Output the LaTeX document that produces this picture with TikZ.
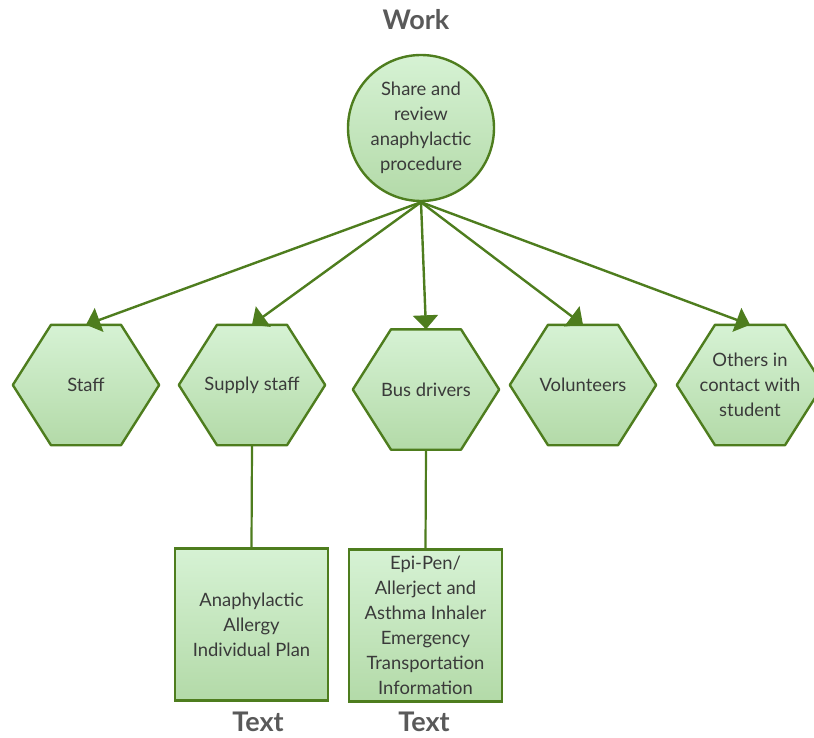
\documentclass[tikz,border=0pt]{standalone}
\usepackage{fontspec}
\setmainfont{Lato}
\usetikzlibrary{arrows.meta}
\definecolor{edgegreen}{HTML}{4E7D1E}
\definecolor{filltop}{HTML}{D6F2D4}
\definecolor{fillbot}{HTML}{B3DAA8}
\definecolor{inktext}{HTML}{3A3A3A}
\definecolor{headgray}{HTML}{595959}
\pgfdeclarelayer{bg}
\pgfsetlayers{bg,main}
\begin{document}
\begin{tikzpicture}[x=1pt,y=-1pt,
  every node/.style={font=\fontsize{18.4}{25}\selectfont, text=inktext, align=center, inner sep=0pt},
  hexnode/.style={minimum width=146pt, minimum height=120pt},
  hexface/.style={draw=edgegreen, line width=2.4pt, top color=filltop, bottom color=fillbot, line join=round},
  roundnode/.style={circle, minimum size=146pt, draw=edgegreen, line width=2.4pt, top color=filltop, bottom color=fillbot},
  docbox/.style={rectangle, minimum width=153pt, minimum height=152pt, draw=edgegreen, line width=2.6pt, top color=filltop, bottom color=fillbot},
  heading/.style={font=\bfseries\fontsize{27}{30}\selectfont, text=headgray},
  arrowline/.style={draw=edgegreen, line width=2.4pt, -{Triangle[length=14pt,width=25pt]}},
  linkline/.style={draw=edgegreen, line width=2.2pt}
]
\useasboundingbox (0,0) rectangle (814,738);

% top-level activity
\node[heading] (work) at (416,20) {Work};
\node[roundnode] (w) at (421,128) {Share and\\review\\anaphylactic\\procedure};

% audiences
\node[hexnode] (h1) at (86,385) {Staff};
\node[hexnode] (h2) at (252,385) {Supply staff};
\node[hexnode] (h3) at (426,389.5) {Bus drivers};
\node[hexnode] (h4) at (583,385) {Volunteers};
\node[hexnode] (h5) at (750,385) {Others in\\contact with\\student};

\begin{pgfonlayer}{bg}
  \foreach \n in {h1,h2,h3,h4,h5}
    \draw[hexface] (\n.west) -- ([xshift=-35pt]\n.north) -- ([xshift=35pt]\n.north)
      -- (\n.east) -- ([xshift=35pt]\n.south) -- ([xshift=-35pt]\n.south) -- cycle;
\end{pgfonlayer}

% documents
\node[docbox] (b1) at (251.5,624.5) {Anaphylactic\\Allergy\\Individual Plan};
\node[docbox] (b2) at (425.5,625.5) {Epi-Pen/\\Allerject and\\Asthma Inhaler\\Emergency\\Transportation\\Information};
\node[heading] (t1) at (258,722) {Text};
\node[heading] (t2) at (424,722) {Text};

% connectors
\foreach \n in {h1,h2,h3,h4,h5}
  \draw[arrowline] (w.south) -- (\n.north);
\draw[linkline] (h2.south) -- (b1.north);
\draw[linkline] (h3.south) -- (b2.north);
\end{tikzpicture}
\end{document}
